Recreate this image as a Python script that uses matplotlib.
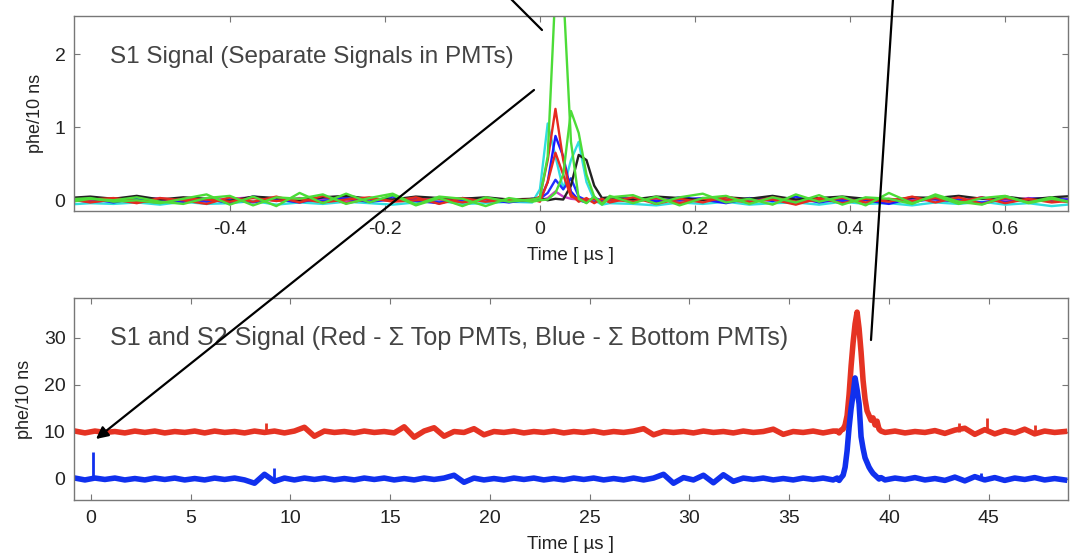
import matplotlib
matplotlib.use('Agg')
import matplotlib.pyplot as plt
import numpy as np
from matplotlib.text import Annotation

plt.rcParams['font.family'] = ['Liberation Sans', 'DejaVu Sans']

# ---- top panel: separate PMT traces (phe/10 ns vs time in us) ----
# sampling grid: coarse before/after the pulse, 10 ns through the pulse
t_top = np.concatenate([np.linspace(-0.61, -0.04, 20),
                        np.linspace(-0.01, 0.09, 11),
                        np.linspace(0.12, 0.69, 20)])

red_a = [0.02, -0.03, 0.01, -0.04, 0.03, 0.00, -0.05, 0.04, -0.02, 0.05, -0.03, 0.06, -0.04, 0.02, -0.01, 0.04, -0.05, 0.03, -0.02, 0.01,
         0.00, 0.05, 0.55, 1.25, 0.55, 0.08, -0.02, 0.03, -0.04, 0.02, -0.03,
         0.04, -0.05, 0.02, -0.03, 0.05, -0.02, 0.01, -0.06, 0.03, -0.04, 0.02, -0.02, 0.05, -0.03, 0.04, -0.05, 0.03, -0.02, 0.01, -0.04]
red_b = [-0.02, 0.01, 0.03, -0.01, -0.03, 0.02, 0.01, -0.02, 0.03, -0.01, 0.02, -0.03, 0.01, 0.04, -0.02, 0.00, 0.02, -0.03, 0.02, -0.01,
         0.01, -0.02, 0.25, 0.65, 0.35, 0.05, 0.02, -0.01, 0.02, -0.03, 0.01,
         -0.02, 0.03, -0.04, 0.02, 0.01, -0.03, 0.04, -0.02, 0.00, 0.03, -0.03, 0.02, -0.01, 0.03, -0.02, 0.04, -0.04, 0.02, -0.03, 0.00]
green_a = [0.01, 0.03, -0.02, 0.00, -0.04, 0.02, 0.08, -0.06, 0.05, -0.08, 0.10, -0.04, 0.09, -0.03, 0.07, -0.07, 0.03, -0.08, 0.04, -0.02,
           0.01, 0.03, 0.60, 2.90, 2.90, 0.80, 0.02, -0.04, 0.05, -0.06, 0.04,
           0.07, -0.05, 0.04, 0.09, -0.03, 0.02, -0.06, 0.08, -0.02, 0.05, -0.07, 0.10, -0.04, 0.06, -0.05, 0.03, 0.06, -0.04, 0.02, -0.03]
green_b = [-0.03, 0.02, 0.00, 0.04, -0.02, -0.05, 0.03, 0.06, -0.07, 0.04, 0.02, 0.08, -0.05, 0.03, 0.09, -0.06, 0.05, 0.02, -0.08, 0.03,
           -0.02, 0.00, 0.01, 0.10, 0.35, 1.22, 0.92, 0.35, 0.05, -0.05, 0.06,
           -0.04, 0.05, -0.07, 0.03, 0.06, -0.05, 0.04, -0.03, 0.07, -0.06, 0.04, 0.02, -0.05, 0.08, -0.02, -0.06, 0.05, -0.03, 0.04, -0.05]
blue_a = [-0.01, 0.02, -0.03, 0.03, 0.01, -0.02, 0.02, -0.04, 0.05, 0.01, -0.03, 0.04, 0.02, -0.02, 0.05, -0.01, -0.04, 0.03, 0.01, -0.03,
          0.02, 0.00, 0.25, 0.88, 0.60, 0.12, 0.00, -0.03, 0.04, -0.02, 0.01,
          0.03, -0.02, 0.04, 0.01, -0.04, 0.03, -0.01, 0.05, -0.03, 0.02, 0.00, -0.05, 0.03, 0.01, -0.02, 0.04, -0.03, 0.02, 0.03, -0.01]
blue_b = [0.01, -0.02, 0.00, 0.02, -0.01, 0.03, -0.02, 0.01, -0.03, 0.02, 0.00, -0.01, 0.03, -0.02, 0.01, 0.02, -0.03, 0.00, 0.02, -0.01,
          -0.01, 0.02, 0.10, 0.28, 0.15, 0.30, 0.05, 0.00, -0.02, 0.01, 0.00,
          0.02, -0.01, 0.00, 0.03, -0.02, 0.01, 0.02, -0.03, 0.01, -0.01, 0.03, 0.00, -0.02, 0.02, 0.01, -0.03, 0.02, 0.00, -0.01, 0.02]
cyan = [-0.06, -0.04, -0.05, -0.03, -0.06, -0.02, -0.05, -0.04, -0.01, -0.06, -0.03, -0.05, -0.02, -0.04, -0.06, -0.03, -0.01, -0.05, -0.04, -0.02,
        -0.03, 0.15, 1.05, 0.60, 0.15, 0.55, 0.80, 0.25, 0.00, -0.06, -0.04,
        -0.05, -0.07, -0.03, -0.05, -0.02, -0.06, -0.04, -0.03, -0.06, -0.02, -0.05, -0.04, -0.07, -0.03, -0.05, -0.02, -0.06, -0.04, -0.08, -0.05]
black = [0.03, 0.05, 0.02, 0.06, 0.01, 0.04, 0.02, -0.01, 0.05, 0.03, 0.00, 0.04, 0.06, 0.02, 0.01, 0.05, 0.03, 0.02, 0.04, 0.01,
         0.02, 0.03, 0.00, 0.02, 0.01, 0.20, 0.62, 0.55, 0.20, 0.03, 0.04,
         0.01, 0.05, 0.03, 0.00, 0.04, 0.02, 0.06, 0.01, 0.03, 0.05, 0.02, -0.01, 0.04, 0.03, 0.06, 0.02, 0.05, 0.01, 0.04, 0.06]
magenta = [0.00, -0.01, 0.02, 0.01, 0.03, -0.02, 0.00, 0.02, 0.04, -0.01, 0.03, 0.01, -0.02, 0.02, 0.00, 0.03, 0.01, -0.01, 0.02, 0.00,
           0.01, 0.00, 0.03, 0.12, 0.05, 0.02, 0.01, 0.00, 0.02, 0.01, 0.03,
           0.01, 0.02, -0.01, 0.03, 0.00, 0.02, 0.04, 0.01, -0.02, 0.03, 0.01, 0.00, 0.02, 0.04, 0.01, 0.02, -0.01, 0.03, 0.00, 0.02]

# ---- bottom panel: summed top (red, offset +10) and bottom (blue) PMTs ----
t_bot = np.concatenate([np.linspace(-0.8, 37.2, 77),
                        np.linspace(37.4, 39.6, 23),
                        np.linspace(39.8, 48.8, 19)])

sum_top = [10.2, 9.8, 10.2, 9.9, 10.1, 9.8, 10.2, 9.9, 10.2, 9.8,
           10.1, 9.9, 10.2, 9.8, 10.2, 9.9, 10.1, 9.8, 10.2, 9.9,
           10.2, 9.8, 10.2, 11.0, 9.1, 10.2, 9.9, 10.1, 9.8, 10.2,
           9.9, 10.1, 9.8, 11.1, 8.9, 10.2, 10.9, 9.1, 10.1, 9.9,
           10.7, 9.4, 10.1, 9.9, 10.2, 9.8, 10.1, 9.9, 10.2, 9.8,
           10.1, 9.9, 10.2, 9.8, 10.1, 9.9, 10.2, 10.7, 9.4, 10.1,
           9.9, 10.1, 9.8, 10.2, 9.9, 10.1, 9.8, 10.2, 9.9, 10.1,
           10.6, 9.5, 10.1, 9.9, 10.2, 9.8, 10.2,
           10.2, 9.8, 10.4, 10.6, 11.5, 13.5, 18.0, 24.0, 29.0, 33.0, 35.5, 32.0,
           27.0, 21.0, 17.0, 14.5, 13.5, 12.5, 13.0, 11.5, 12.3, 10.6, 10.2,
           9.9, 10.2, 9.8, 10.1, 9.9, 10.3, 9.7, 10.4, 10.8, 9.5,
           10.5, 9.6, 10.3, 9.8, 10.6, 9.6, 10.2, 9.9, 10.1]
sum_bottom = [0.2, -0.2, 0.2, -0.1, 0.2, -0.2, 0.1, -0.2, 0.2, -0.1,
              0.2, -0.2, 0.1, -0.2, 0.2, -0.1, 0.2, -0.2, -0.9, 1.0,
              -0.5, 0.2, -0.2, 0.2, -0.1, 0.2, -0.2, 0.1, -0.2, 0.2,
              -0.1, 0.2, -0.2, 0.1, -0.2, 0.2, -0.1, 0.2, 0.8, -0.7,
              0.2, -0.2, 0.1, -0.2, 0.2, -0.1, 0.2, -0.2, 0.1, -0.2,
              0.2, -0.1, 0.2, -0.2, 0.1, -0.2, 0.2, -0.2, 0.2, 1.0,
              -0.9, 0.3, -0.2, 0.8, -0.8, 0.9, -0.5, 0.2, -0.1, 0.2,
              -0.2, 0.1, -0.2, 0.2, -0.1, 0.2, -0.2,
              0.2, -0.3, 0.3, 0.8, 2.5, 6.0, 11.0, 15.0, 18.0, 21.5, 19.0, 16.0,
              9.0, 6.5, 4.5, 3.5, 2.5, 1.8, 1.2, 0.8, 0.4, 0.0, 0.3,
              -0.2, 0.2, -0.1, 0.3, -0.2, 0.1, -0.3, 0.4, -0.4, 0.5,
              -0.2, 0.3, -0.3, 0.2, -0.1, 0.3, -0.2, 0.1, -0.2]

# narrow single-sample spikes
top_spike_t = [8.8, 43.5, 44.9, 47.3]
top_spike_y = [12.0, 11.9, 12.9, 11.5]
bottom_spike_t = [0.1, 9.2, 44.6]
bottom_spike_y = [5.7, 2.3, 1.3]

fig = plt.figure(figsize=(10.78, 5.56), dpi=100)
ax1 = fig.add_axes([0.0686, 0.6205, 0.9221, 0.3507])
ax2 = fig.add_axes([0.0686, 0.1007, 0.9221, 0.3633])

top_traces = [(cyan, '#30dede'), (magenta, '#c83cc8'), (blue_b, '#2030ff'),
              (blue_a, '#1a1aff'), (black, '#222222'), (red_b, '#e52a20'),
              (red_a, '#e52a20'), (green_b, '#4cdc38'), (green_a, '#4cdc38')]
for vals, col in top_traces:
    ax1.plot(t_top, vals, color=col, lw=1.7)

ax2.plot(t_bot, sum_top, color='#e53323', lw=4)
ax2.vlines(top_spike_t, 10, top_spike_y, color='#e53323', lw=2)
ax2.plot(t_bot, sum_bottom, color='#1030ee', lw=4)
ax2.vlines(bottom_spike_t, 0, bottom_spike_y, color='#1030ee', lw=2)

ax1.set_xlim(-0.601, 0.681)
ax1.set_ylim(-0.147, 2.52)
ax1.set_xticks([-0.4, -0.2, 0, 0.2, 0.4, 0.6])
ax1.set_xticklabels(['-0.4', '-0.2', '0', '0.2', '0.4', '0.6'])
ax1.set_yticks([0, 1, 2])

ax2.set_xlim(-0.85, 48.97)
ax2.set_ylim(-4.47, 38.5)
ax2.set_xticks([0, 5, 10, 15, 20, 25, 30, 35, 40, 45])
ax2.set_yticks([0, 10, 20, 30])

for ax in (ax1, ax2):
    ax.tick_params(direction='in', top=True, right=True, length=4, width=0.8,
                   color='#777777', labelsize=14, labelcolor='#222222')
    ax.tick_params(axis='x', pad=7)
    ax.tick_params(axis='y', pad=6)
    for s in ax.spines.values():
        s.set_color('#777777')
        s.set_linewidth(1.0)
    ax.set_xlabel('Time [ µs ]', fontsize=13.5, color='#222222', labelpad=7)
    ax.set_ylabel('phe/10 ns', fontsize=13, color='#222222', labelpad=8)

ax1.text(0.036, 0.79, 'S1 Signal (Separate Signals in PMTs)', transform=ax1.transAxes,
         fontsize=17.5, color='#444444', va='center', ha='left')
ax2.text(0.036, 0.80, 'S1 and S2 Signal (Red - Σ Top PMTs, Blue - Σ Bottom PMTs)',
         transform=ax2.transAxes, fontsize=18.1, color='#444444', va='center', ha='left')

# hand-drawn pointer lines (figure pixel coordinates, origin bottom-left)
pointers = [((511, 557), (542, 526), '-'),
            ((534, 466), (96, 117), '-|>'),
            ((893, 557), (871, 216), '-')]
for start, end, style in pointers:
    ann = Annotation('', xy=end, xytext=start, xycoords='figure pixels',
                     textcoords='figure pixels', annotation_clip=False,
                     arrowprops=dict(arrowstyle=style, color='black', lw=1.6,
                                     mutation_scale=18, shrinkA=0, shrinkB=0))
    fig.add_artist(ann)

fig.savefig('out.png', dpi=100)
